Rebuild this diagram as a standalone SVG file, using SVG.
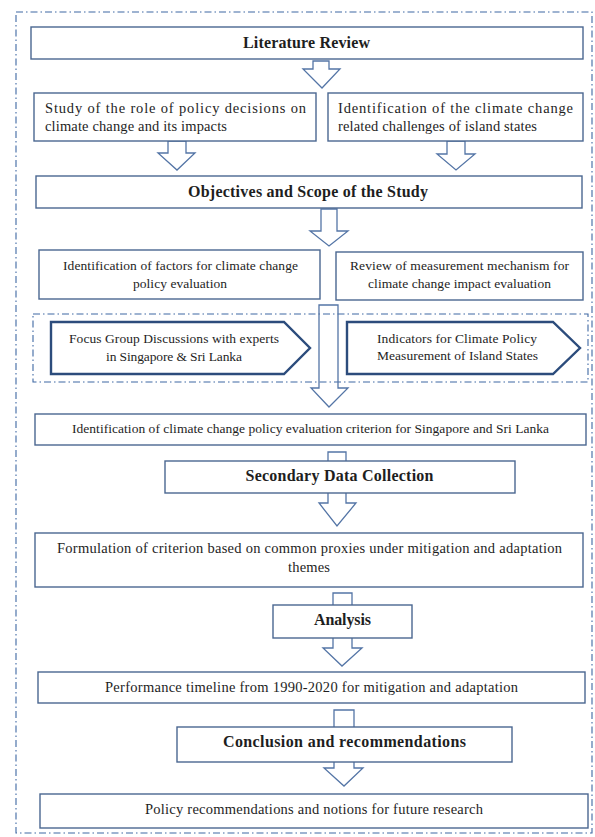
<svg xmlns="http://www.w3.org/2000/svg" width="595" height="837" viewBox="0 0 595 837">
<style>
.box{fill:#ffffff;stroke:#4a6791;stroke-width:1.4}
.pent{fill:#ffffff;stroke:#2c4c7c;stroke-width:2.4;stroke-linejoin:miter}
.arr{fill:none;stroke:#5475a6;stroke-width:1.3;stroke-linejoin:miter}
.frame{fill:none;stroke:#3f68a3;stroke-width:1.1;stroke-dasharray:7 3 1.5 3}
.t{font-family:"Liberation Serif","Times New Roman",serif;fill:#1e1e1e}
.r{font-size:14.5px}
.s{font-size:13.5px}
.b{font-size:16px;font-weight:bold}
.m{text-anchor:middle}
</style>
<rect width="595" height="837" fill="#ffffff"/>
<rect id="outer-frame" class="frame" x="16" y="12" width="576" height="821"/>
<rect id="inner-frame" class="frame" x="33" y="314" width="555" height="68" stroke-width="1.3"/>

<g id="connectors">
<polygon class="arr" points="313,61 329,61 329,69 340,69 322,88 303,69 313,69"/>
<polygon class="arr" points="168,141 186,141 186,153 195,153 177,170 158,153 168,153"/>
<polygon class="arr" points="447,141 465,141 465,154 475,154 456,170 437,154 447,154"/>
<polygon class="arr" points="321,209 337,209 337,231 348,231 329,246 310,231 321,231"/>
<polygon class="arr" points="319,305 338,305 338,388 348,388 329,407 311,388 319,388"/>
<polygon class="arr" points="328,452 346,452 346,503 356,503 337,526 319,503 328,503"/>
<polygon class="arr" points="333,593 352,593 352,648 362,648 342,666 323,648 333,648"/>
<polygon class="arr" points="334,710 354,710 354,768 363,768 344,786 324,768 334,768"/>
</g>

<g id="n-lit">
<rect class="box" x="31" y="27" width="552" height="32"/>
<text class="t b m" x="306.5" y="48" textLength="127">Literature Review</text>
</g>

<g id="n-role">
<rect class="box" x="34" y="93" width="282" height="48"/>
<text class="t r" x="45" y="113" textLength="261">Study of the role of policy decisions on</text>
<text class="t r" x="45" y="131" textLength="182">climate change and its impacts</text>
</g>

<g id="n-challenges">
<rect class="box" x="328" y="93" width="255" height="48"/>
<text class="t r" x="338" y="113" textLength="235">Identification of the climate change</text>
<text class="t r" x="338" y="131" textLength="199">related challenges of island states</text>
</g>

<g id="n-objectives">
<rect class="box" x="36" y="176" width="546" height="32"/>
<text class="t b m" x="308" y="197" textLength="240">Objectives and Scope of the Study</text>
</g>

<g id="n-factors">
<rect class="box" x="39" y="250" width="281" height="49"/>
<text class="t s m" x="180.5" y="270" textLength="235">Identification of factors for climate change</text>
<text class="t s m" x="180" y="288" textLength="94">policy evaluation</text>
</g>

<g id="n-review">
<rect class="box" x="336" y="252" width="247" height="48"/>
<text class="t s m" x="459.5" y="270" textLength="219">Review of measurement mechanism for</text>
<text class="t s m" x="459.5" y="288" textLength="183">climate change impact evaluation</text>
</g>

<g id="n-fgd">
<polygon class="pent" points="51,322 284,322 310,348 284,374 51,374"/>
<text class="t s m" x="174" y="343" textLength="210">Focus Group Discussions with experts</text>
<text class="t s m" x="174" y="361" textLength="136">in Singapore &amp; Sri Lanka</text>
</g>

<g id="n-indicators">
<polygon class="pent" points="347,322 553,322 580,348 553,374 347,374"/>
<text class="t s m" x="457" y="343" textLength="160">Indicators for Climate Policy</text>
<text class="t s m" x="457.5" y="360" textLength="161">Measurement of Island States</text>
</g>

<g id="n-criterion">
<rect class="box" x="35" y="414" width="551" height="31"/>
<text class="t s m" x="310.5" y="433" textLength="477">Identification of climate change policy evaluation criterion for Singapore and Sri Lanka</text>
</g>

<g id="n-secondary">
<rect class="box" x="165" y="461" width="350" height="32"/>
<text class="t b m" x="339.5" y="481" textLength="188">Secondary Data Collection</text>
</g>

<g id="n-formulation">
<rect class="box" x="35" y="533" width="548" height="54"/>
<text class="t r m" x="309.5" y="553" textLength="505">Formulation of criterion based on common proxies under mitigation and adaptation</text>
<text class="t r m" x="309" y="572" textLength="42">themes</text>
</g>

<g id="n-analysis">
<rect class="box" x="273" y="605" width="139" height="33"/>
<text class="t b m" x="342.5" y="625" textLength="57">Analysis</text>
</g>

<g id="n-performance">
<rect class="box" x="38" y="672" width="547" height="31"/>
<text class="t r m" x="311.5" y="692" textLength="413">Performance timeline from 1990-2020 for mitigation and adaptation</text>
</g>

<g id="n-conclusion">
<rect class="box" x="177" y="727" width="335" height="35"/>
<text class="t b m" x="344.5" y="747" textLength="243">Conclusion and recommendations</text>
</g>

<g id="n-policy">
<rect class="box" x="40" y="794" width="548" height="34"/>
<text class="t r m" x="314" y="814" textLength="338">Policy recommendations and notions for future research</text>
</g>
</svg>
